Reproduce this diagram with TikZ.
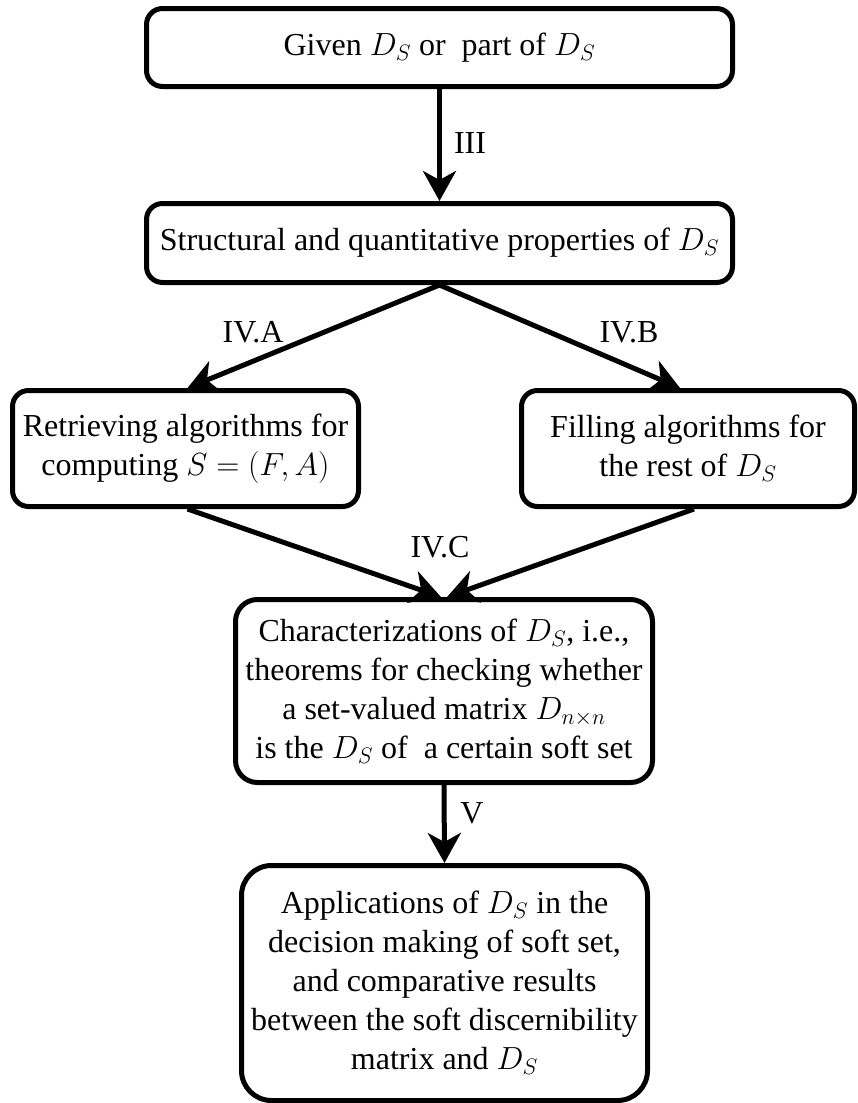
\RequirePackage{fix-cm}
\documentclass[tikz,border=0pt]{standalone}
\usepackage{fontspec}
\setmainfont{Liberation Serif}
\usetikzlibrary{arrows.meta}
\begin{document}
\begin{tikzpicture}[x=1pt,y=-1pt,
  box/.style={draw=black, line width=5pt, rounded corners=16pt, align=center,
    inner sep=0pt, font=\fontsize{32}{39}\selectfont},
  conn/.style={line width=5pt, -{Stealth[length=30pt,width=33pt,inset=9pt]}},
  lbl/.style={font=\fontsize{32}{39}\selectfont, inner sep=0pt}]
\path[use as bounding box] (0,0) rectangle (857,1103);
\node[box, minimum width=586pt, minimum height=78pt] (given) at (439.5,47.5)
  {Given $D_S$ or~ part of $D_S$};
\node[box, minimum width=586pt, minimum height=79pt] (struct) at (439.5,243)
  {Structural and quantitative properties of $D_S$};
\node[box, minimum width=346pt, minimum height=116pt] (retr) at (185.5,448.5)
  {Retrieving algorithms for\\ computing $S=(F,A)$};
\node[box, minimum width=333pt, minimum height=116pt] (fill) at (688,448.5)
  {Filling algorithms for\\ the rest of $D_S$};
\node[box, rounded corners=22pt, minimum width=417pt, minimum height=183pt] (char) at (444,691)
  {Characterizations of $D_S$, i.e.,\\ theorems for checking whether\\
   a set-valued matrix $D_{n\times n}$\\ is the $D_S$ of~ a certain soft set};
\node[box, rounded corners=30pt, minimum width=406pt, minimum height=235pt] (appl) at (444.5,983)
  {Applications of $D_S$ in the\\ decision making of soft set,\\
   and comparative results\\ between the soft discernibility\\ matrix and $D_S$};

\draw[conn] (given.south) -- (struct.north);
\draw[conn] (struct.south) -- ([xshift=2pt]retr.north);
\draw[conn] (struct.south) -- ([xshift=-8pt]fill.north);
\draw[conn] ([xshift=2pt]retr.south) -- ([xshift=-3pt]char.north);
\draw[conn] ([xshift=6pt]fill.south) -- ([xshift=3pt]char.north);
\draw[conn] (char.south) -- (appl.north);

\node[lbl] (l3) at (470,143) {III};
\node[lbl] (l4a) at (253,332) {IV.A};
\node[lbl] (l4b) at (629,332) {IV.B};
\node[lbl] (l4c) at (440,547) {IV.C};
\node[lbl] (l5) at (472,813) {V};
\end{tikzpicture}
\end{document}
